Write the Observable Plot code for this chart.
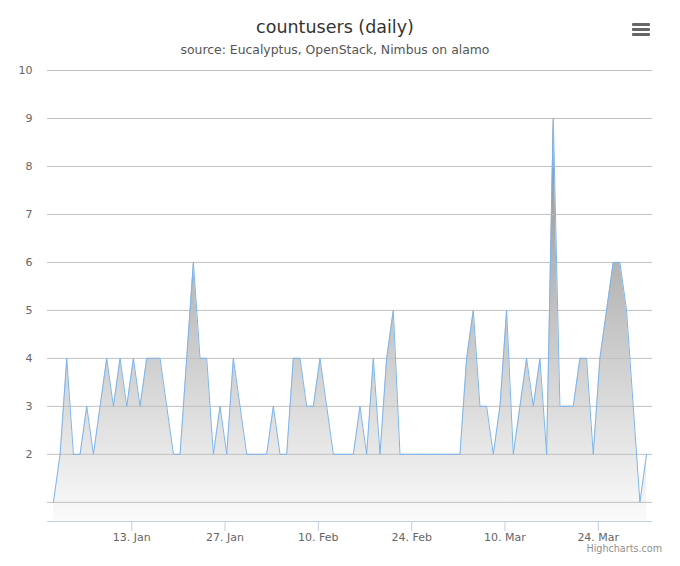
<!DOCTYPE html>
<html>
<head>
<meta charset="utf-8">
<script src="https://cdn.jsdelivr.net/npm/d3@7"></script>
<script src="https://cdn.jsdelivr.net/npm/@observablehq/plot@0.6"></script>
<style>
  html, body { margin: 0; padding: 0; background: #fff; }
  #chart { position: relative; width: 680px; height: 566px; font-family: "DejaVu Sans", sans-serif; }
  #chart svg.plot { position: absolute; left: 0; top: 0; }
  .title { position: absolute; left: 0; width: 670px; text-align: center; top: 16px; line-height: 22px; font-size: 17.5px; color: #333; }
  .subtitle { position: absolute; left: 0; width: 670px; text-align: center; top: 42px; line-height: 16px; font-size: 12.4px; color: #555; }
  .credits { position: absolute; right: 18px; top: 543px; line-height: 12px; font-size: 9.6px; color: #909090; }
  .menu { position: absolute; left: 632px; top: 22px; }
</style>
</head>
<body>
<div id="chart">
  <div class="title">countusers (daily)</div>
  <div class="subtitle">source: Eucalyptus, OpenStack, Nimbus on alamo</div>
  <svg class="menu" width="18" height="15" viewBox="0 0 18 15">
    <rect x="0" y="1" width="18" height="3" rx="1" fill="#666"></rect>
    <rect x="0" y="6" width="18" height="3" rx="1" fill="#666"></rect>
    <rect x="0" y="11" width="18" height="3" rx="1" fill="#666"></rect>
  </svg>
  <div class="credits">Highcharts.com</div>
</div>
<script>
// ---- data ----
const startDate = "2014-01-01T06:00:00Z"; // first daily sample
const values = [
  1, 2, 4, 2, 2, 3, 2, 3, 4, 3,
  4, 3, 4, 3, 4, 4, 4, 3, 2, 2,
  4, 6, 4, 4, 2, 3, 2, 4, 3, 2,
  2, 2, 2, 3, 2, 2, 4, 4, 3, 3,
  4, 3, 2, 2, 2, 2, 3, 2, 4, 2,
  4, 5, 2, 2, 2, 2, 2, 2, 2, 2,
  2, 2, 4, 5, 3, 3, 2, 3, 5, 2,
  3, 4, 3, 4, 2, 9, 3, 3, 3, 4,
  4, 2, 4, 5, 6, 6, 5, 3, 1, 2
];
const xTickDates = ["2014-01-13", "2014-01-27", "2014-02-10", "2014-02-24", "2014-03-10", "2014-03-24"];
const yTickLabels = [2, 3, 4, 5, 6, 7, 8, 9, 10];
const gridValues = [1, 2, 3, 4, 5, 6, 7, 8, 9, 10];
const yMin = 0.6, yMax = 10;

const start = new Date(startDate);
const data = values.map((v, i) => ({date: d3.utcDay.offset(start, i), value: v}));
const xTicks = xTickDates.map(s => new Date(s + "T00:00:00Z"));

const ext = d3.extent(data, d => d.date);
const pad = (ext[1] - ext[0]) * 0.01;
const xDomain = [new Date(+ext[0] - pad), new Date(+ext[1] + pad)];

const svg = Plot.plot({
  width: 680,
  height: 566,
  marginTop: 70,
  marginBottom: 45,
  marginLeft: 47,
  marginRight: 28,
  style: {fontFamily: "DejaVu Sans, sans-serif", fontSize: "11px", background: "transparent"},
  x: {type: "utc", domain: xDomain},
  y: {domain: [yMin, yMax]},
  marks: [
    Plot.areaY(data, {x: "date", y1: yMin, y2: "value", fill: "url(#cu-grad)"}),
    Plot.ruleY(gridValues, {stroke: "#c0c0c0", strokeWidth: 1}),
    Plot.lineY(data, {x: "date", y: "value", stroke: "#7cb5ec", strokeWidth: 1}),
    Plot.ruleY([yMin], {stroke: "#C0D0E0", strokeWidth: 1}),
    Plot.axisX({ticks: xTicks, tickFormat: d3.utcFormat("%-d. %b"), tickSize: 10, tickPadding: 2,
                stroke: "#C0D0E0", fill: "#666", label: null}),
    Plot.axisY({ticks: yTickLabels, tickSize: 0, tickPadding: 15, fill: "#666", label: null})
  ]
});
svg.classList.add("plot");

const defs = d3.select(svg).insert("defs", ":first-child");
const grad = defs.append("linearGradient").attr("id", "cu-grad")
  .attr("x1", 0).attr("y1", 0).attr("x2", 0).attr("y2", 1);
grad.append("stop").attr("offset", 0).attr("stop-color", "#8c8c8c");
grad.append("stop").attr("offset", 1).attr("stop-color", "#fbfbfb");

const chart = document.getElementById("chart");
chart.insertBefore(svg, chart.firstChild);
</script>
</body>
</html>
